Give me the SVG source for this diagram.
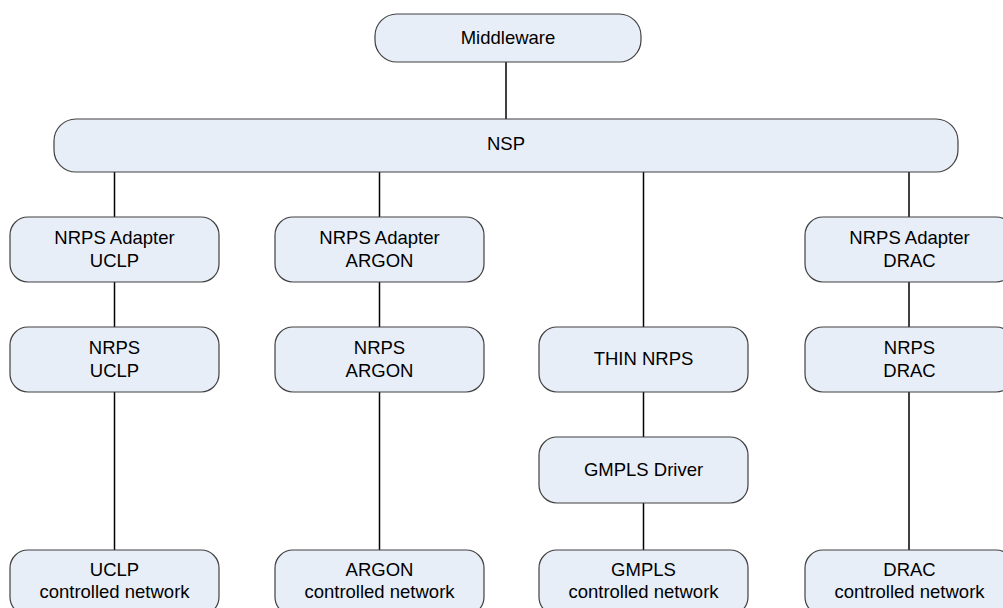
<svg xmlns="http://www.w3.org/2000/svg" width="1003" height="608" viewBox="0 0 1003 608">
<style>
.box{fill:#E8EEF7;stroke:#404040;stroke-width:1.2}
.t{font-family:"Liberation Sans",Arial,sans-serif;font-size:18.5px;fill:#000;text-anchor:middle}
.c{stroke:#000;stroke-width:1.5;fill:none}
</style>
<rect width="1003" height="608" fill="#fff"/>
<g id="connectors">
<line class="c" x1="506" y1="62" x2="506" y2="119"/>
<line class="c" x1="114.5" y1="172" x2="114.5" y2="217"/>
<line class="c" x1="114.5" y1="282" x2="114.5" y2="327"/>
<line class="c" x1="114.5" y1="392" x2="114.5" y2="550"/>
<line class="c" x1="379.5" y1="172" x2="379.5" y2="217"/>
<line class="c" x1="379.5" y1="282" x2="379.5" y2="327"/>
<line class="c" x1="379.5" y1="392" x2="379.5" y2="550"/>
<line class="c" x1="643.5" y1="172" x2="643.5" y2="327"/>
<line class="c" x1="643.5" y1="392" x2="643.5" y2="437"/>
<line class="c" x1="643.5" y1="503" x2="643.5" y2="550"/>
<line class="c" x1="909" y1="172" x2="909" y2="217"/>
<line class="c" x1="909" y1="282" x2="909" y2="327"/>
<line class="c" x1="909" y1="392" x2="909" y2="550"/>
</g>
<g id="middleware"><rect class="box" x="375" y="14" width="266" height="48" rx="22"/><text class="t" x="508" y="44">Middleware</text></g>
<g id="nsp"><rect class="box" x="54" y="119" width="904" height="53" rx="22"/><text class="t" x="506" y="150">NSP</text></g>

<g id="adapter-uclp"><rect class="box" x="10" y="217" width="209" height="65" rx="18"/><text class="t" x="114.5" y="244">NRPS Adapter</text><text class="t" x="114.5" y="267">UCLP</text></g>
<g id="nrps-uclp"><rect class="box" x="10" y="327" width="209" height="65" rx="18"/><text class="t" x="114.5" y="354">NRPS</text><text class="t" x="114.5" y="377">UCLP</text></g>
<g id="net-uclp"><rect class="box" x="10" y="550" width="209" height="65" rx="18"/><text class="t" x="114.5" y="576">UCLP</text><text class="t" x="114.5" y="598">controlled network</text></g>

<g id="adapter-argon"><rect class="box" x="275" y="217" width="209" height="65" rx="18"/><text class="t" x="379.5" y="244">NRPS Adapter</text><text class="t" x="379.5" y="267">ARGON</text></g>
<g id="nrps-argon"><rect class="box" x="275" y="327" width="209" height="65" rx="18"/><text class="t" x="379.5" y="354">NRPS</text><text class="t" x="379.5" y="377">ARGON</text></g>
<g id="net-argon"><rect class="box" x="275" y="550" width="209" height="65" rx="18"/><text class="t" x="379.5" y="576">ARGON</text><text class="t" x="379.5" y="598">controlled network</text></g>

<g id="thin-nrps"><rect class="box" x="539" y="327" width="209" height="65" rx="18"/><text class="t" x="643.5" y="365">THIN NRPS</text></g>
<g id="gmpls-driver"><rect class="box" x="539" y="437" width="209" height="66" rx="18"/><text class="t" x="643.5" y="476">GMPLS Driver</text></g>
<g id="net-gmpls"><rect class="box" x="539" y="550" width="209" height="65" rx="18"/><text class="t" x="643.5" y="576">GMPLS</text><text class="t" x="643.5" y="598">controlled network</text></g>

<g id="adapter-drac"><rect class="box" x="805" y="217" width="209" height="65" rx="18"/><text class="t" x="909.5" y="244">NRPS Adapter</text><text class="t" x="909.5" y="267">DRAC</text></g>
<g id="nrps-drac"><rect class="box" x="805" y="327" width="209" height="65" rx="18"/><text class="t" x="909.5" y="354">NRPS</text><text class="t" x="909.5" y="377">DRAC</text></g>
<g id="net-drac"><rect class="box" x="805" y="550" width="209" height="65" rx="18"/><text class="t" x="909.5" y="576">DRAC</text><text class="t" x="909.5" y="598">controlled network</text></g>
</svg>
